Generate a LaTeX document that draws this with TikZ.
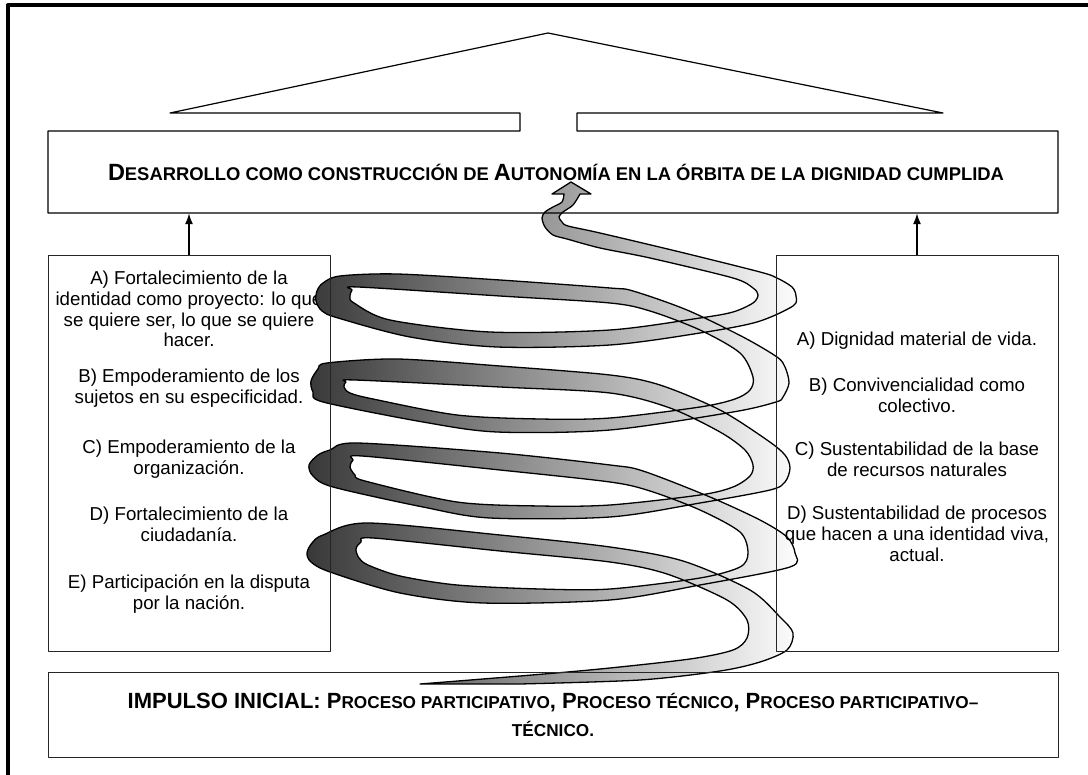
\documentclass[tikz,border=0pt]{standalone}
\usepackage{fontspec}
\setmainfont{Liberation Sans}
\usetikzlibrary{arrows.meta}
\newcommand\nho[2][18.4]{{\fontsize{#1}{20}\selectfont #2}}
\begin{document}
\begin{tikzpicture}[x=1pt,y=-1pt,line join=round,
	hop/.style={draw=black!85, line width=1pt, inner sep=0pt},
	chu/.style={font=\fontsize{18.7}{20.7}\selectfont, align=center, inner sep=0pt},
	tua/.style={font=\bfseries\fontsize{23.5}{28}\selectfont, align=center, inner sep=0pt},
	muiten/.style={-{Latex[length=11pt,width=8pt]}, line width=1.6pt}]
	\useasboundingbox (0,0) rectangle (1088,775);
	% Khung ngoài
	\draw[line width=4pt] (8,775) -- (8,5.3) -- (1088,5.3);
	
	% Nội dung hộp trái
	\node[chu] (tA) at (189,309) {A) Fortalecimiento de la\\identidad como proyecto: lo que\\se quiere ser, lo que se quiere\\hacer.};
	\node[chu] (tB) at (189,388) {B) Empoderamiento de los\\sujetos en su especificidad.};
	\node[chu] (tC) at (189,459) {C) Empoderamiento de la\\organización.};
	\node[chu] (tD) at (189,524) {D) Fortalecimiento de la\\ciudadanía.};
	\node[chu] (tE) at (189,594) {E) Participación en la disputa\\por la nación.};
	
	% Vẽ đường xoắn
	\draw[line width=1.3pt, left color=black!78, right color=white]
	plot[smooth, tension=0.5] coordinates {(420,684) (520,676) (600,669) (690,659) (733,650) (747,638) (747,620) (727,600) (667,574) (610,562) (500,551) (373,538) (361,542) (356,549) (359,558) (368,565) (400,576) (457,585) (540,589) (610,589) (700,578) (740,567) (748,553) (740,532) (700,510) (650,491) (610,482) (500,470) (362,456) (353,460) (350,467) (355,475) (365,481) (457,502) (540,506) (610,505) (700,495) (733,487) (750,476) (753,465) (745,450) (720,432) (670,408) (610,393) (500,387) (355,380) (346,382) (344,387) (350,393) (373,399) (457,415) (540,419) (610,418) (700,407) (735,399) (750,390) (753,377) (740,353) (700,330) (650,311) (610,303) (500,296) (358,287) (352,290) (350,297) (354,303) (390,320) (490,332) (610,330) (700,318) (733,312) (753,303) (758,295) (753,288) (733,278) (650,258) (600,248) (567,239) (553,235) (545,227) (542,218) (545,212) (553,207) (562,202) (564,194)}
	-- (552,194) -- (571,182) -- (591,194) --
	plot[smooth, tension=0.5] coordinates {(580,194) (573,205) (563,212) (559,217) (562,222) (568,226) (600,233) (680,252) (760,272) (777,278) (792,287) (796,296) (793,306) (757,322) (700,333) (610,345) (497,347) (410,337) (338,318) (322,311) (316,301) (317,291) (323,283) (340,276) (397,274) (500,280) (610,288) (633,291) (687,310) (743,337) (777,357) (785,367) (789,383) (783,397) (776,402) (733,412) (610,430) (497,432) (423,422) (323,402) (313,392) (311,381) (318,369) (327,363) (397,359) (500,366) (610,375) (660,385) (720,410) (767,440) (785,455) (790,468) (785,482) (770,490) (700,503) (610,517) (490,518) (423,507) (333,487) (313,476) (309,465) (318,455) (330,450) (357,443) (500,453) (610,465) (643,471) (710,497) (760,520) (787,537) (795,553) (790,567) (700,585) (610,600) (483,603) (400,593) (330,572) (311,562) (307,553) (312,543) (323,535) (367,523) (500,535) (610,547) (683,561) (750,590) (780,617) (793,633) (787,650) (760,662) (720,671) (640,680) (520,684)} -- cycle;
	
	% Mái nhà và hộp tiêu đề
	\draw[line width=1.2pt] (48,131) -- (520,131) -- (520,113) -- (170,113) -- (548,33) -- (943,113) -- (577,113) -- (577,131) -- (1058,131) -- (1058,213) -- (48,213) -- cycle;
	\node[tua, minimum width=1010pt, minimum height=82pt] (tieude) at (556,172) {D\nho{ESARROLLO COMO CONSTRUCCIÓN DE }A\nho{UTONOMÍA EN LA ÓRBITA DE LA DIGNIDAD CUMPLIDA}};
	
	% Hai hộp bên và mũi tên
	\node[hop, minimum width=282pt, minimum height=395pt] (trai) at (189,453.5) {};
	\node[hop, minimum width=282pt, minimum height=395pt] (phai) at (917,453.5) {};
	\draw[muiten] (trai.north) -- (trai.north |- tieude.south);
	\draw[muiten] (phai.north) -- (phai.north |- tieude.south);
	
	% Nội dung hộp phải
	\node[chu] (pA) at (917,341) {A) Dignidad material de vida.};
	\node[chu] (pB) at (917,395) {B) Convivencialidad como\\colectivo.};
	\node[chu] (pC) at (917,459) {C) Sustentabilidad de la base\\de recursos naturales};
	\node[chu] (pD) at (917,534) {D) Sustentabilidad de procesos\\que hacen a una identidad viva,\\actual.};
	
	% Hộp xuất phát
	\node[hop, tua, font=\bfseries\fontsize{22}{28}\selectfont, minimum width=1010pt, minimum height=85pt] (khoidau) at (553,714.5) {IMPULSO INICIAL: P\nho[17.2]{ROCESO PARTICIPATIVO}, P\nho[17.2]{ROCESO TÉCNICO}, P\nho[17.2]{ROCESO PARTICIPATIVO–}\\\nho[17.2]{TÉCNICO.}};
\end{tikzpicture}
\end{document}
